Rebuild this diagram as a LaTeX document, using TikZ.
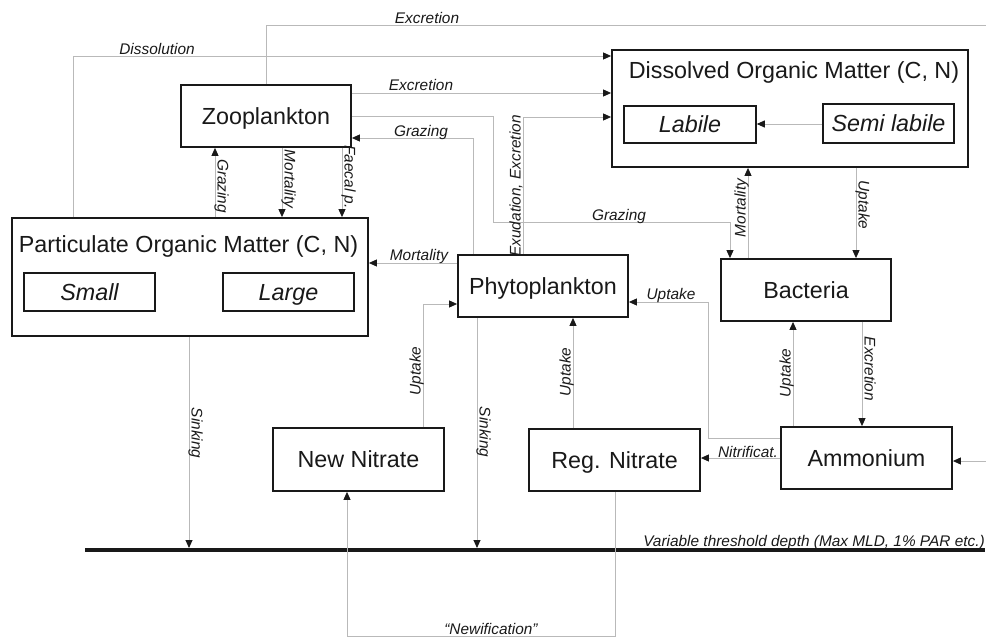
\documentclass[tikz,border=0pt]{standalone}
\usepackage{fontspec}
\setmainfont{Liberation Sans}
\usetikzlibrary{arrows.meta}
\definecolor{linegray}{RGB}{185,185,185}
\definecolor{ink}{RGB}{25,25,25}
\begin{document}
\begin{tikzpicture}[x=1pt,y=-1pt,
  box/.style={draw=ink, line width=1.8pt, fill=white, inner sep=0pt, text=ink,
    font=\fontsize{23.3}{27}\selectfont, text height=16.7pt, text depth=0pt},
  subbox/.style={box, line width=1.6pt, font=\fontsize{23.3}{27}\selectfont\itshape},
  title/.style={text=ink, inner sep=0pt, font=\fontsize{23.3}{27}\selectfont, anchor=base},
  flow/.style={draw=linegray, line width=0.9pt, -{Triangle[length=8pt,width=7pt,color=ink]}},
  plainline/.style={draw=linegray, line width=0.9pt},
  lbl/.style={font=\fontsize{15.4}{18}\selectfont\itshape, text=ink, inner sep=0pt, anchor=base},
]
\useasboundingbox (0,0) rectangle (986,637);

% boxes
\node[box, minimum width=170pt, minimum height=62pt] (zoo) at (266,116) {Zooplankton};
\node[box, minimum width=356pt, minimum height=117pt] (dom) at (790,108.5) {};
\node[title] (domt) at (794,78) {Dissolved Organic Matter (C, N)};
\node[subbox, minimum width=132pt, minimum height=37pt] (lab) at (690,124.5) {Labile};
\node[subbox, minimum width=131pt, minimum height=39pt] (semi) at (888.5,123.5) {Semi labile};
\node[box, minimum width=356pt, minimum height=118pt] (pom) at (190,277) {};
\node[title] (pomt) at (188.5,252) {Particulate Organic Matter (C, N)};
\node[subbox, minimum width=131pt, minimum height=38pt] (small) at (89.5,292) {Small};
\node[subbox, minimum width=131pt, minimum height=38pt] (large) at (288.5,292) {Large};
\node[box, minimum width=170pt, minimum height=62pt] (phy) at (543,286) {Phytoplankton};
\node[box, minimum width=170pt, minimum height=62pt] (bac) at (806,290) {Bacteria};
\node[box, minimum width=171pt, minimum height=63pt] (nnit) at (358.5,459.5) {New Nitrate};
\node[box, minimum width=171pt, minimum height=62pt] (rnit) at (614.5,460) {Reg. Nitrate};
\node[box, minimum width=171pt, minimum height=62pt] (amm) at (866.5,458) {Ammonium};

% threshold line
\coordinate (thL) at (85,550);
\coordinate (thR) at (985,550);
\coordinate (thTop) at (0,548);
\draw[ink, line width=4pt] (thL) -- (thR);
\node[lbl, anchor=base east] (thlbl) at (985,546) {Variable threshold depth (Max MLD, 1\% PAR etc.)};

% free ends on the right edge
\coordinate (exR) at (986,25);
\coordinate (amR) at (986,461);

% connectors
\draw[plainline] (266,0 |- zoo.north) -- (266,25) -- (exR);
\draw[flow] (73,0 |- pom.north) -- (73,56) -- (dom.west |- 0,56);
\draw[flow] (zoo.east |- 0,93) -- (dom.west |- 0,93);
\draw[flow] (zoo.east |- 0,116) -- (493,116) -- (493,222) -- (730,222) -- (730,0 |- bac.north);
\draw[flow] (473,0 |- phy.north) -- (473,138) -- (zoo.east |- 0,138);
\draw[flow] (523,0 |- phy.north) -- (523,117) -- (dom.west |- 0,117);
\draw[flow] (215,0 |- pom.north) -- (215,0 |- zoo.south);
\draw[flow] (282,0 |- zoo.south) -- (282,0 |- pom.north);
\draw[flow] (342,0 |- zoo.south) -- (342,0 |- pom.north);
\draw[flow] (phy.west |- 0,263) -- (pom.east |- 0,263);
\draw[flow] (748,0 |- bac.north) -- (748,0 |- dom.south);
\draw[flow] (856,0 |- dom.south) -- (856,0 |- bac.north);
\draw[flow] (semi.west |- 0,124) -- (lab.east |- 0,124);
\draw[flow] (189,0 |- pom.south) -- (189,0 |- thTop);
\draw[flow] (477,0 |- phy.south) -- (477,0 |- thTop);
\draw[flow] (423,0 |- nnit.north) -- (423,304) -- (phy.west |- 0,304);
\draw[flow] (573,0 |- rnit.north) -- (573,0 |- phy.south);
\draw[flow] (amm.west |- 0,438) -- (708,438) -- (708,302) -- (phy.east |- 0,302);
\draw[flow] (793,0 |- amm.north) -- (793,0 |- bac.south);
\draw[flow] (862,0 |- bac.south) -- (862,0 |- amm.north);
\draw[flow] (amm.west |- 0,458) -- (rnit.east |- 0,458);
\draw[flow] (amR) -- (amm.east |- 0,461);
\draw[flow] (615,0 |- rnit.south) -- (615,636) -- (347,636) -- (347,0 |- nnit.south);

% horizontal labels
\node[lbl] (l1) at (427,23.5) {Excretion};
\node[lbl] (l2) at (157,54) {Dissolution};
\node[lbl] (l3) at (421,90) {Excretion};
\node[lbl] (l4) at (619,220) {Grazing};
\node[lbl] (l5) at (421,136) {Grazing};
\node[lbl] (l6) at (419,260) {Mortality};
\node[lbl] (l7) at (671,299.5) {Uptake};
\node[lbl] (l8) at (748,457) {Nitrificat.};
\node[lbl] (l9) at (491,634) {\textquotedblleft Newification\textquotedblright};

% vertical labels
\node[lbl, rotate=-90] (v1) at (217.5,186) {Grazing};
\node[lbl, rotate=-90] (v2) at (284.5,179) {Mortality};
\node[lbl, rotate=-90] (v3) at (344.5,177) {Faecal p.};
\node[lbl, rotate=90] (v4) at (520.5,186) {Exudation, Excretion};
\node[lbl, rotate=90] (v5) at (745.5,208) {Mortality};
\node[lbl, rotate=-90] (v6) at (858.5,205) {Uptake};
\node[lbl, rotate=-90] (v7) at (191.5,433) {Sinking};
\node[lbl, rotate=-90] (v8) at (479.5,432) {Sinking};
\node[lbl, rotate=90] (v9) at (420.5,371) {Uptake};
\node[lbl, rotate=90] (v10) at (570.5,372) {Uptake};
\node[lbl, rotate=90] (v11) at (790.5,373) {Uptake};
\node[lbl, rotate=-90] (v12) at (864.5,369) {Excretion};
\end{tikzpicture}
\end{document}
